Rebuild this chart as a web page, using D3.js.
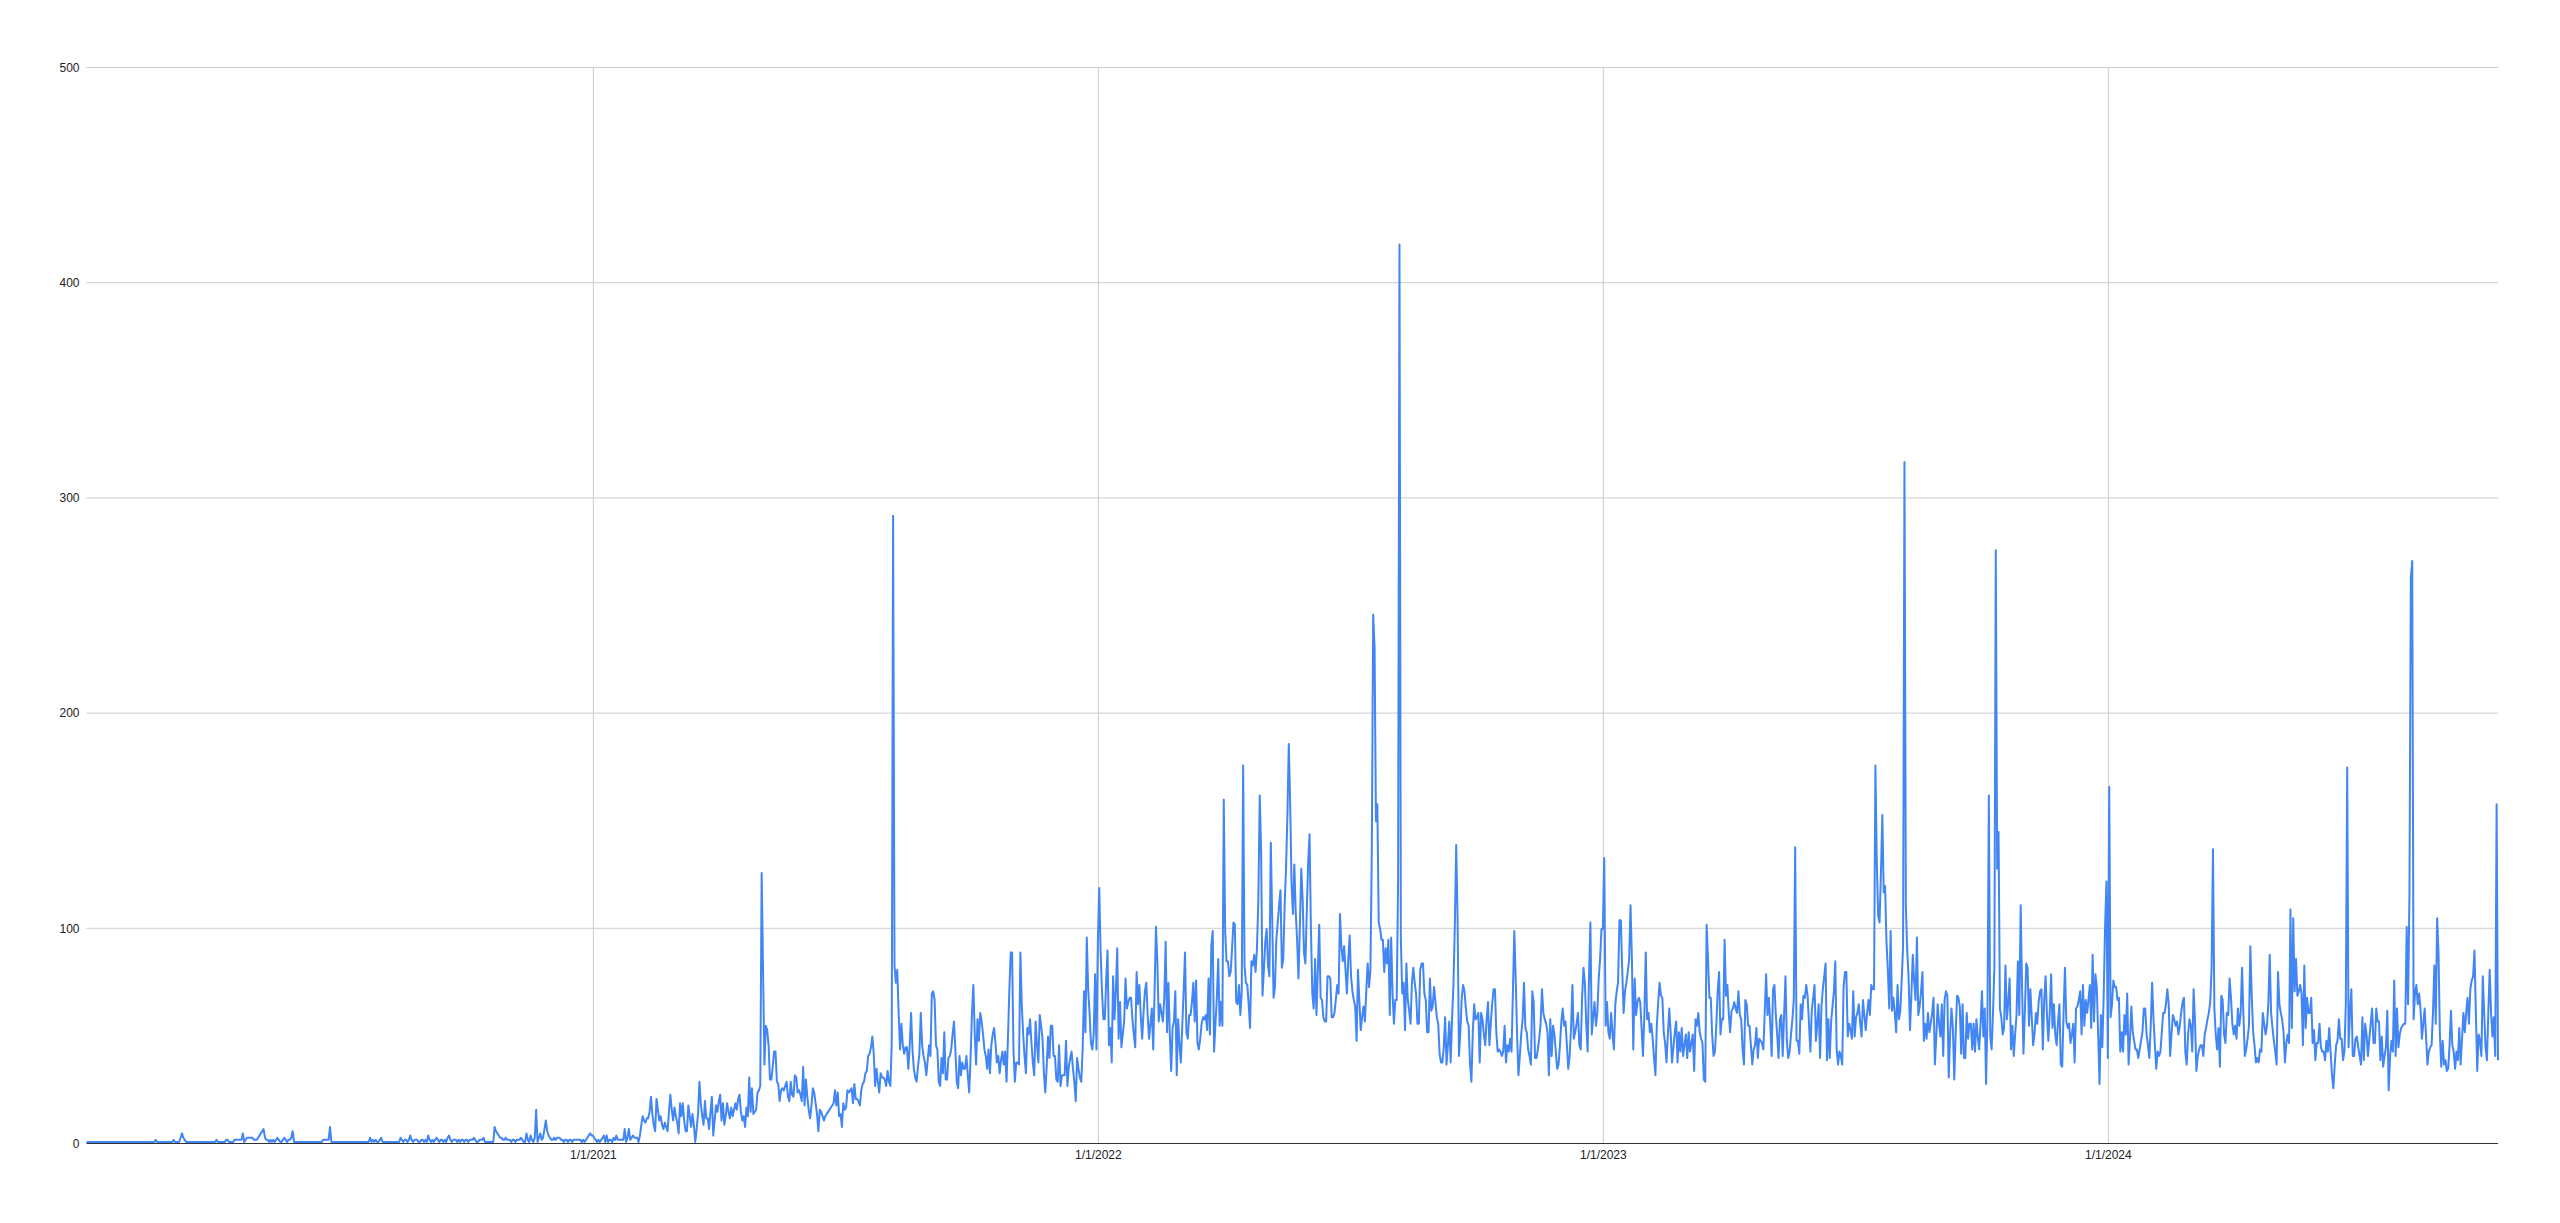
<!DOCTYPE html>
<html>
<head>
<meta charset="utf-8">
<script src="https://cdn.jsdelivr.net/npm/d3@7"></script>
<style>
  html, body { margin: 0; padding: 0; background: #ffffff; }
  svg { display: block; }
  .tick text { font-family: Arial, "Liberation Sans", sans-serif; font-size: 12px; fill: #222222; }
</style>
</head>
<body>
<div id="chart"></div>
<script>
// ---- Data: daily values, one array per year (index 0 = January 1) ----
const values2020 = [
  0,0,0,0,0,0,0,0,0,0, 0,0,0,0,0,0,0,0,0,0, 0,0,0,0,0,0,0,0,0,0, 0,0,0,0,0,0,0,0,0,0,
  0,0,0,0,0,0,0,0,0,0, 1,0,0,0,0,0,0,0,0,0, 0,0,0,1,0,0,0,0,2,4, 2,1,0,0,0,0,0,0,0,0,
  0,0,0,0,0,0,0,0,0,0, 0,0,0,0,1,0,0,0,0,0, 0,1,1,0,0,0,0,1,1,1, 1,1,1,4,0,1,2,2,2,2,
  2,1,1,1,2,3,4,5,6,2, 1,1,0,1,0,1,0,1,2,1, 0,0,1,2,1,0,1,1,2,5, 0,0,0,0,0,0,0,0,0,0,
  0,0,0,0,0,0,0,0,0,0, 0,1,1,1,1,1,7,0,0,0, 0,0,0,0,0,0,0,0,0,0, 0,0,0,0,0,0,0,0,0,0,
  0,0,0,0,0,2,0,1,0,1, 0,0,1,2,0,0,0,0,0,0, 0,0,0,0,0,0,0,2,1,0, 1,1,0,1,3,1,0,1,1,1,
  0,0,1,1,0,1,0,3,1,0, 1,0,1,2,1,0,1,1,0,1, 0,2,3,1,0,1,1,1,0,1, 0,1,1,0,1,1,0,1,1,1,
  2,1,0,0,1,1,1,2,0,0, 0,0,0,0,0,7,5,4,3,2, 2,1,1,2,1,1,1,0,1,1, 0,1,1,1,2,1,0,0,4,1,
  0,3,1,0,2,15,0,2,4,1, 2,6,10,5,3,2,1,1,2,1, 2,2,2,1,1,0,1,1,0,1, 1,0,1,1,1,1,1,1,0,1,
  0,1,2,3,4,3
];
const values2021 = [
  3,2,1,0,1,0,1,2,3,0, 3,0,1,1,0,2,1,3,1,1, 1,1,1,6,0,2,6,1,2,3, 2,2,2,0,3,8,12,10,9,11,
  11,14,21,13,8,5,20,15,10,12, 8,6,9,7,5,14,22,15,10,16, 12,9,4,18,12,18,10,5,5,17, 12,7,13,8,0,6,13,28,18,12,
  8,19,11,11,6,14,21,3,10,17, 14,19,22,10,18,8,12,18,14,11, 16,12,15,18,15,20,22,14,10,12, 7,16,12,30,14,25,13,14,15,23,
  24,26,125,80,36,54,52,45,29,29, 35,42,42,28,27,19,24,25,24,26, 28,21,19,28,22,21,31,30,23,24, 22,19,35,17,29,21,15,11,17,25,
  23,18,13,5,15,14,12,10,12,13, 14,15,16,17,18,24,17,23,12,13, 7,18,15,16,24,23,24,25,18,27, 20,20,19,17,24,27,28,32,33,40,
  41,44,49,41,26,34,28,23,32,30, 30,29,26,33,28,26,45,291,82,74, 80,60,43,55,45,41,44,44,34,45, 60,43,34,30,28,35,41,60,45,40,
  37,31,38,45,40,69,70,66,45,43, 28,26,39,32,51,29,29,39,40,43, 50,56,43,28,25,40,31,37,34,34, 40,31,23,39,60,73,50,36,57,47,
  60,56,50,43,40,34,43,32,45,50, 53,46,37,40,32,38,42,36,42,28, 48,70,88,88,43,28,37,37,36,88, 64,50,40,32,53,50,57,46,37,31,
  56,45,37,59,54,48,32,23,35,49, 39,54,54,40,40,29,28,45,26,31, 31,31,47,26,35,39,42,34,28,19, 39,34,30,28,43,70,51,95,71,60,
  46,43,50,78,43
];
const values2022 = [
  93,118,88,70,57,57,75,89,45,53, 37,77,57,70,90,48,65,44,50,56, 76,62,65,67,67,57,50,44,79,64, 73,59,48,60,70,74,59,48,55,62,
  43,70,100,84,56,64,60,56,67,93, 51,74,50,33,53,56,70,31,57,45, 37,54,70,88,51,48,59,59,65,74, 56,75,46,43,48,55,58,57,59,52,
  76,50,91,98,42,55,67,85,54,65, 54,159,98,84,84,77,79,90,102,101, 65,64,73,59,70,175,82,74,73,64, 53,84,82,87,79,90,113,161,135,68,
  80,93,99,82,77,139,104,67,72,94, 102,110,117,81,85,110,127,152,185,157, 120,106,129,107,94,76,100,127,113,88, 83,107,130,143,99,69,62,85,59,80,
  101,67,66,58,56,56,77,77,76,58, 58,60,66,73,69,106,91,84,91,80, 69,85,96,77,70,66,63,47,80,66, 52,58,63,56,70,83,72,80,135,245,
  230,149,157,102,99,94,94,79,90,83, 94,59,95,69,55,66,66,121,417,94, 69,74,52,83,66,61,55,74,81,74, 69,55,55,80,83,83,69,66,51,51,
  76,61,63,72,65,58,55,41,37,37, 44,58,36,45,56,37,57,73,100,138, 104,40,51,67,73,70,62,56,54,36, 28,51,64,57,58,60,37,60,57,50,
  45,57,65,45,55,64,71,71,51,42, 43,42,40,42,54,37,45,42,48,42, 70,98,76,50,31,40,50,57,74,53, 51,43,40,36,70,65,39,39,43,48,
  55,71,60,57,55,51,31,57,40,54, 50,42,34,36,45,56,62,54,56,45, 34,40,53,73,48,51,55,60,45,43, 67,81,74,55,42,77,102,50,58,65,
  54,60,76,85,99
];
const values2023 = [
  99,132,54,65,51,48,60,50,43,64, 70,74,103,103,80,60,70,74,79,85, 110,85,43,76,59,65,67,65,53,40, 59,88,57,60,51,55,48,39,31,54,
  65,74,68,67,51,46,37,50,62,51, 37,44,51,56,37,51,42,53,40,45, 50,39,51,42,46,50,33,57,54,60, 51,48,46,29,28,101,85,67,67,50,
  40,42,54,70,79,50,57,57,94,68, 73,60,51,61,62,65,62,60,70,59, 57,43,36,66,64,54,54,45,36,43, 45,53,39,48,47,46,43,60,78,59,
  67,55,40,71,73,59,50,39,57,59, 40,59,77,47,39,42,50,57,66,137, 47,47,41,64,57,68,67,73,68,55, 42,61,67,73,47,55,64,39,63,71,
  77,83,38,57,39,56,63,70,84,43, 36,42,40,36,72,79,79,49,55,52, 48,70,49,58,60,64,55,49,66,59, 52,60,66,59,73,71,71,175,130,105,
  102,125,152,116,119,93,80,62,98,61, 67,60,51,73,57,61,75,91,316,110, 89,76,52,68,87,75,66,95,59,63, 70,79,47,55,48,60,51,55,60,67,
  36,49,64,55,49,64,40,66,70,68, 30,50,62,53,29,50,68,67,63,41, 64,39,39,60,48,55,55,43,55,42, 57,49,43,55,70,49,62,27,59,161,
  49,43,60,81,275,127,144,62,58,50, 53,82,57,65,76,43,54,40,50,59, 84,59,110,72,41,60,83,81,54,71, 58,45,50,60,55,65,70,71,43,66,
  77,59,47,60,78,53,64,50,45,56, 64,36,35,60,81,56,53,55,46,50, 55,37,62,63,66,70,50,73,54,66, 60,66,73,53,87,56,78,72,50,27,
  59,44,68,100,121
];
const values2024 = [
  39,165,58,64,75,72,72,66,67,42, 51,42,59,50,69,36,48,63,51,47, 43,43,39,43,47,51,62,62,50,45, 39,54,74,57,45,34,42,40,42,51,
  60,60,64,71,64,40,50,59,57,54, 56,50,54,60,65,67,42,36,50,57, 54,42,71,56,33,40,43,45,45,40, 50,53,57,60,65,81,136,62,50,43,
  53,35,68,66,50,46,60,59,76,67, 55,50,54,48,62,54,60,81,59,40, 43,48,54,91,68,51,45,37,39,37, 43,42,60,55,50,54,64,87,60,53,
  47,42,36,79,64,60,57,51,37,46, 50,46,108,53,104,70,85,68,70,73, 69,45,82,53,67,60,60,67,46,52, 38,46,46,55,44,42,42,38,47,42,
  53,42,31,25,36,45,47,57,48,48, 38,42,64,174,44,60,71,40,40,48, 49,44,40,36,58,38,55,50,40,48, 55,62,46,46,62,56,56,38,49,35,
  40,44,61,24,40,47,42,75,40,62, 44,50,53,54,55,55,100,64,115,262, 270,57,69,73,64,69,62,48,55,62, 49,36,42,44,45,60,82,55,104,88,
  50,35,47,36,38,33,34,45,61,45, 42,34,42,38,53,36,48,60,51,60, 67,55,71,75,77,89,60,33,50,47, 40,77,60,44,38,60,80,60,49,58,
  40,157,38
];
const seriesYears = [2020, 2021, 2022, 2023, 2024];
const seriesValues = [values2020, values2021, values2022, values2023, values2024];

const yTicks = [0, 100, 200, 300, 400, 500];
const xTickYears = [2021, 2022, 2023, 2024];
const xTickLabels = ["1/1/2021", "1/1/2022", "1/1/2023", "1/1/2024"];

// ---- Build daily records ----
const data = [];
seriesYears.forEach((yr, k) => {
  seriesValues[k].forEach((v, i) => data.push({ date: new Date(yr, 0, 1 + i), value: v }));
});

// ---- Layout ----
const W = 2560, H = 1223;
const plot = { left: 86.5, right: 2498, top: 67, bottom: 1143 };

const svg = d3.select("#chart").append("svg")
  .attr("width", W).attr("height", H)
  .style("background", "#ffffff");

const x = d3.scaleTime()
  .domain(d3.extent(data, d => d.date))
  .range([plot.left, plot.right]);
const y = d3.scaleLinear()
  .domain([0, 500])
  .range([plot.bottom, plot.top]);

// Y axis with horizontal gridlines
const yAxis = svg.append("g")
  .attr("transform", `translate(${plot.left},0)`)
  .call(d3.axisLeft(y).tickValues(yTicks).tickSize(-(plot.right - plot.left)).tickPadding(7).tickFormat(d3.format("d")));
yAxis.select(".domain").remove();
yAxis.selectAll(".tick line").attr("stroke", "#cccccc").attr("stroke-width", 1);
yAxis.selectAll(".tick text").attr("dy", "0.35em");

// X axis with vertical gridlines at year starts
const xTickDates = xTickYears.map(yr => new Date(yr, 0, 1));
const xAxis = svg.append("g")
  .attr("transform", `translate(0,${plot.bottom})`)
  .call(d3.axisBottom(x).tickValues(xTickDates).tickSize(-(plot.bottom - plot.top)).tickPadding(7)
    .tickFormat((d, i) => xTickLabels[i]));
xAxis.select(".domain").remove();
xAxis.selectAll(".tick line").attr("stroke", "#cccccc").attr("stroke-width", 1);

// Series line
const line = d3.line()
  .x(d => x(d.date))
  .y(d => y(d.value) - 1);
svg.append("path")
  .datum(data)
  .attr("fill", "none")
  .attr("stroke", "#4285f4")
  .attr("stroke-width", 2)
  .attr("stroke-linejoin", "round")
  .attr("d", line);

// Baseline (zero line)
svg.append("line")
  .attr("x1", plot.left).attr("x2", plot.right)
  .attr("y1", y(0) + 0.5).attr("y2", y(0) + 0.5)
  .attr("stroke", "#333333").attr("stroke-width", 1);
</script>
</body>
</html>
